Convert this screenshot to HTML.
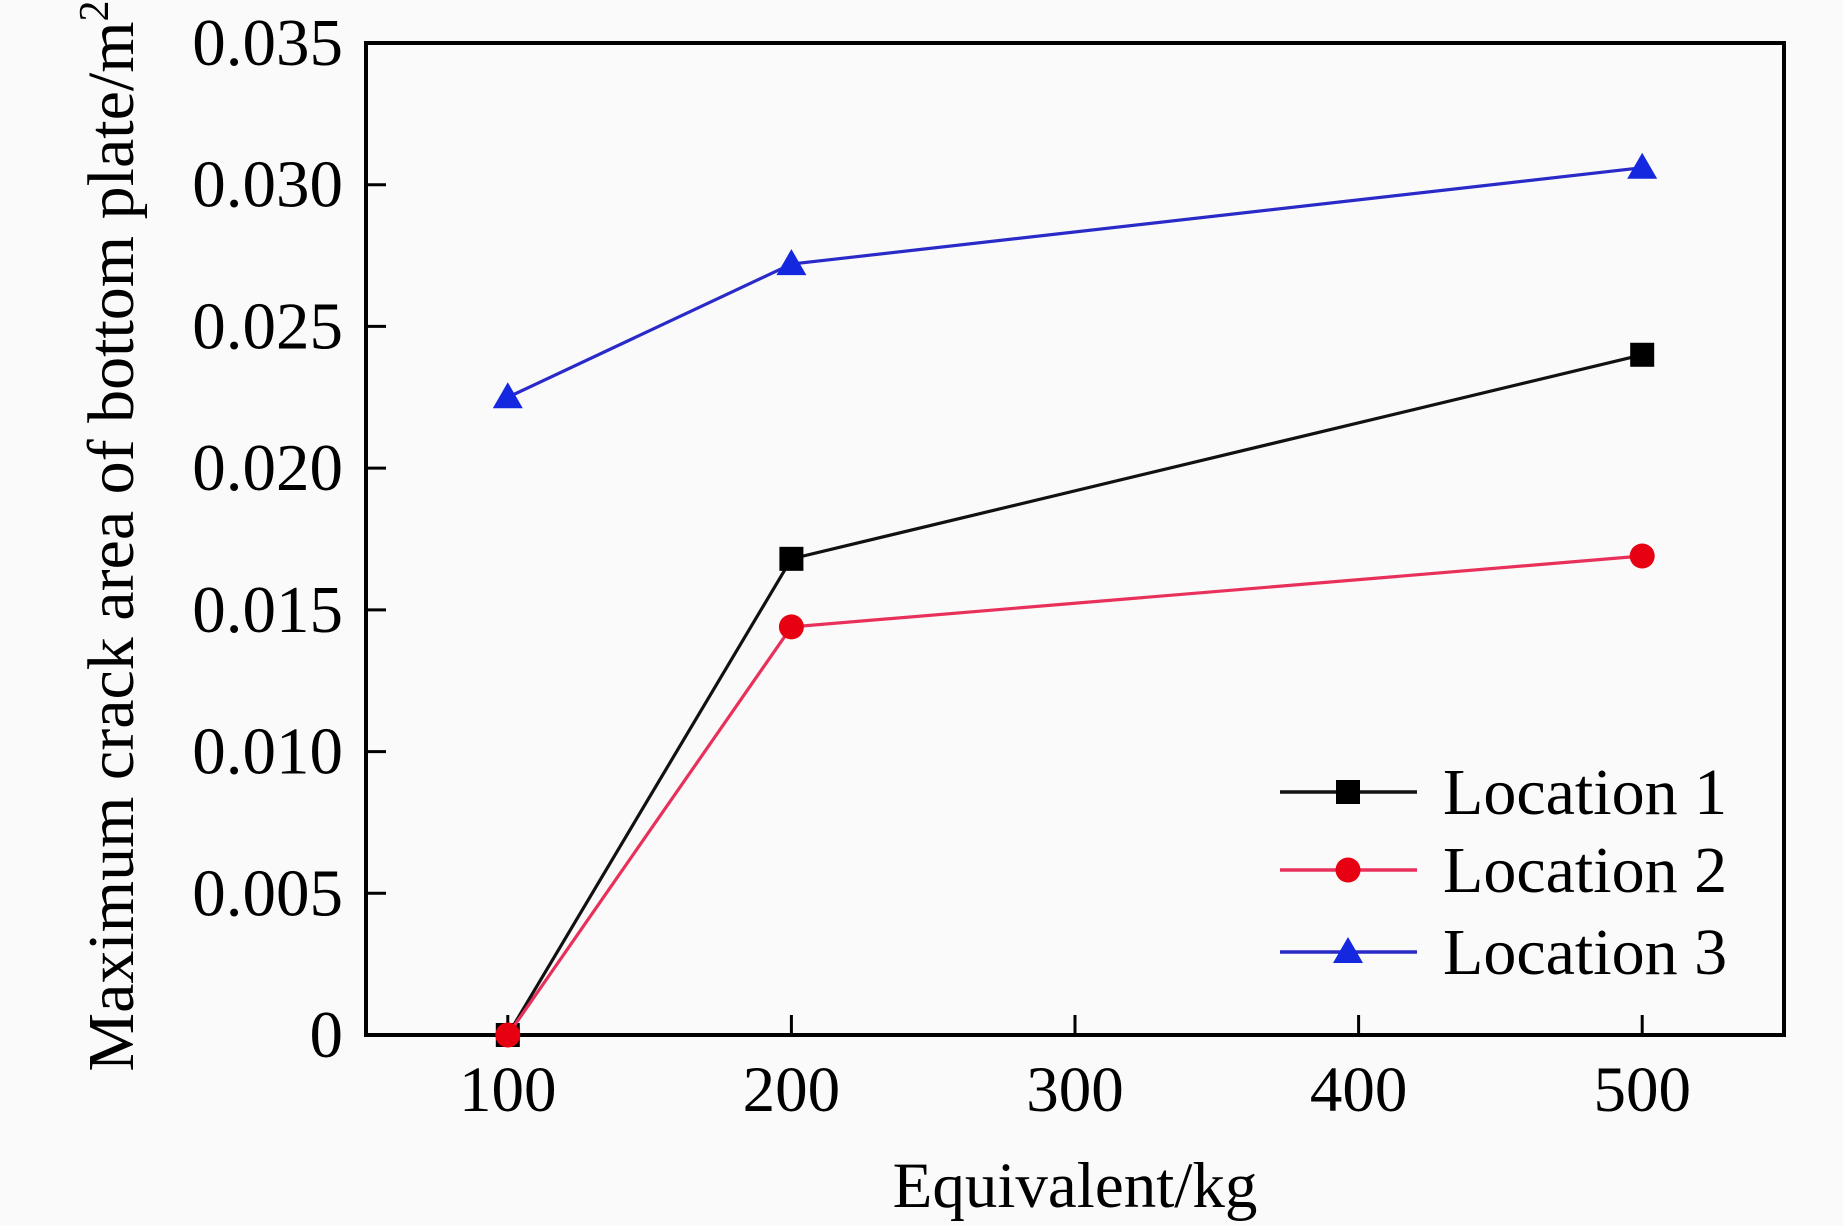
<!DOCTYPE html>
<html><head><meta charset="utf-8"><style>
html,body{margin:0;padding:0;background:#fafafa;}
svg{display:block;font-family:"Liberation Serif",serif;}
</style></head><body>
<svg id="chart" width="1843" height="1226" viewBox="0 0 1843 1226" xmlns="http://www.w3.org/2000/svg">
<rect width="1843" height="1226" fill="#fafafa"/>
<g id="plot"></g>
</svg>
<script>
const xValues = [100, 200, 500];
const loc1 = [0, 0.0168, 0.024];
const loc2 = [0, 0.0144, 0.0169];
const loc3 = [0.0225, 0.0272, 0.0306];
const xTicks = [100, 200, 300, 400, 500];
const yTicks = [0, 0.005, 0.010, 0.015, 0.020, 0.025, 0.030, 0.035];
const yTickLabels = ["0", "0.005", "0.010", "0.015", "0.020", "0.025", "0.030", "0.035"];
const seriesNames = ["Location 1", "Location 2", "Location 3"];

const L = 366, R = 1784, T = 43, B = 1035;
const xMin = 50, xMax = 550, yMin = 0, yMax = 0.035;
function sx(v){ return L + (v - xMin) / (xMax - xMin) * (R - L); }
function sy(v){ return B - (v - yMin) / (yMax - yMin) * (B - T); }

const NS = "http://www.w3.org/2000/svg";
const g = document.getElementById('plot');
function mk(tag, attrs, parent){
  const e = document.createElementNS(NS, tag);
  for (const k in attrs) e.setAttribute(k, attrs[k]);
  (parent || g).appendChild(e);
  return e;
}

const frame = mk('rect', {x:L, y:T, width:R-L, height:B-T, fill:'none', stroke:'#000', 'stroke-width':4});



xTicks.forEach(v => {
  const t = mk('line', {x1:sx(v), x2:sx(v), y1:B, y2:B-20, stroke:'#000', 'stroke-width':3});
  
  
  const lb = mk('text', {x:sx(v), y:1111, 'font-size':65, 'text-anchor':'middle', fill:'#000'});
  lb.textContent = v;
  
  
});
yTicks.forEach((v, i) => {
  const t = mk('line', {x1:L, x2:L+20, y1:sy(v), y2:sy(v), stroke:'#000', 'stroke-width':3});
  
  
  const lb = mk('text', {x:343, y:sy(v)+22, 'font-size':67, 'text-anchor':'end', fill:'#000'});
  lb.textContent = yTickLabels[i];
  
  
});

const xt = mk('text', {x:1075, y:1207, 'font-size':65, 'text-anchor':'middle', fill:'#000'});
xt.textContent = 'Equivalent/kg';


const yt = mk('text', {x:0, y:0, 'font-size':66, 'text-anchor':'middle', fill:'#000', transform:'translate(133,536) rotate(-90)'});
yt.innerHTML = 'Maximum crack area of bottom plate/m<tspan dy="-25" font-size="42">2</tspan>';



const lineColors = ['#111', '#e8305a', '#2a2ac8'];
const markColors = ['#000', '#e60012', '#1428e0'];
const allSeries = [loc1, loc2, loc3];

function marker(kind, cx, cy, color){
  let m;
  if (kind === 0) m = mk('rect', {x:cx-12, y:cy-12, width:24, height:24, fill:color});
  else if (kind === 1) m = mk('circle', {cx:cx, cy:cy, r:12.5, fill:color});
  else m = mk('polygon', {points:`${cx},${cy-15} ${cx-15},${cy+11} ${cx+15},${cy+11}`, fill:color});
  return m;
}

allSeries.forEach((s, k) => {
  const pts = s.map((v, i) => sx(xValues[i]) + ',' + sy(v)).join(' ');
  const pl = mk('polyline', {points:pts, fill:'none', stroke:lineColors[k], 'stroke-width':3.2});
  
  
  s.forEach((v, i) => {
    const m = marker(k, sx(xValues[i]), sy(v), markColors[k]);
    
    
  });
});

const legY = [792, 870, 952];
seriesNames.forEach((name, k) => {
  const ln = mk('line', {x1:1280, x2:1417, y1:legY[k], y2:legY[k], stroke:lineColors[k], 'stroke-width':3.5});
  
  
  const m = marker(k, 1348, legY[k], markColors[k]);
  
  
  const tx = mk('text', {x:1443, y:legY[k]+22, 'font-size':66, fill:'#000'});
  tx.textContent = name;
  
  
});
</script>
</body></html>
